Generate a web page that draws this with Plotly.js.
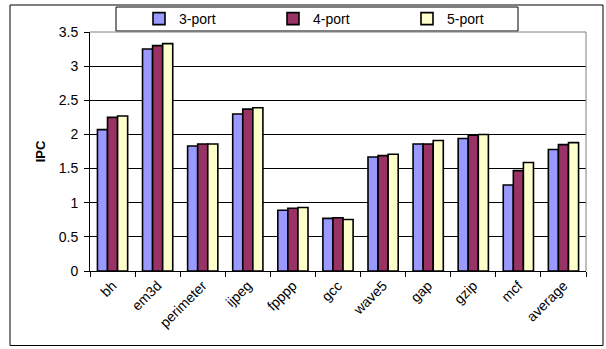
<!DOCTYPE html>
<html>
<head>
<meta charset="utf-8">
<script src="https://cdn.plot.ly/plotly-3.0.1.min.js"></script>
<style>
  html, body { margin: 0; padding: 0; background: #fff; }
  #chart { width: 606px; height: 349px; }
</style>
</head>
<body>
<div id="chart"></div>
<script>
// Benchmarks on the category axis
const categories = ['bh', 'em3d', 'perimeter', 'ijpeg', 'fpppp', 'gcc', 'wave5', 'gap', 'gzip', 'mcf', 'average'];

// IPC per register-file port configuration
const port3 = [2.07, 3.25, 1.83, 2.30, 0.89, 0.77, 1.67, 1.86, 1.94, 1.26, 1.78];
const port4 = [2.25, 3.30, 1.86, 2.37, 0.92, 0.78, 1.69, 1.86, 1.99, 1.47, 1.85];
const port5 = [2.27, 3.33, 1.86, 2.39, 0.93, 0.755, 1.71, 1.91, 2.00, 1.59, 1.88];

const seriesNames = ['3-port', '4-port', '5-port'];
const seriesColors = ['#9999FF', '#993366', '#FFFFCC'];
const seriesValues = [port3, port4, port5];

const FONT = 'Arial, "Liberation Sans", sans-serif';

const traces = seriesValues.map((vals, i) => ({
  type: 'bar',
  name: seriesNames[i],
  x: categories,
  y: vals,
  marker: { color: seriesColors[i], line: { color: '#000', width: 1.6 } },
  hoverinfo: 'x+y+name'
}));

// pixel helpers for paper-referenced decorations
const W = 606, H = 349, ML = 90, MR = 20, MT = 32, MB = 78;
const PW = W - ML - MR, PH = H - MT - MB;
const px = x => (x - ML) / PW;
const py = y => (H - MB - y) / PH;

const layout = {
  width: W,
  height: H,
  margin: { l: ML, r: MR, t: MT, b: MB, pad: 0, autoexpand: false },
  paper_bgcolor: '#fff',
  plot_bgcolor: '#fff',
  font: { family: FONT, size: 14, color: '#000' },
  barmode: 'group',
  bargap: 0.33,
  bargroupgap: 0,
  showlegend: true,
  legend: {
    orientation: 'h',
    x: px(139), xanchor: 'left',
    y: py(19), yanchor: 'middle',
    bgcolor: 'rgba(0,0,0,0)',
    borderwidth: 0,
    entrywidth: 89,
    entrywidthmode: 'pixels',
    font: { family: FONT, size: 14, color: '#000' }
  },
  xaxis: {
    type: 'category',
    automargin: false,
    tickson: 'boundaries',
    ticks: 'outside',
    ticklen: 5,
    tickcolor: '#000',
    tickwidth: 1,
    showline: true,
    linecolor: '#000',
    linewidth: 1,
    showgrid: false,
    tickangle: -45,
    tickfont: { family: FONT, size: 14, color: '#000' },
    fixedrange: true
  },
  yaxis: {
    range: [0, 3.5],
    automargin: false,
    dtick: 0.5,
    tick0: 0,
    ticks: 'outside',
    ticklen: 5,
    tickcolor: '#000',
    ticklabelstandoff: 3,
    showline: true,
    linecolor: '#000',
    linewidth: 1,
    showgrid: true,
    gridcolor: '#000',
    gridwidth: 1,
    zeroline: false,
    tickfont: { family: FONT, size: 14, color: '#000' },
    title: { text: '<b>IPC</b>', font: { family: FONT, size: 13, color: '#000' }, standoff: 10 },
    fixedrange: true
  },
  shapes: [
    // outer chart frame
    { type: 'rect', xref: 'paper', yref: 'paper',
      x0: px(10), x1: px(603), y0: py(345.5), y1: py(5),
      line: { color: '#000', width: 1 }, layer: 'below' },
    // legend frame
    { type: 'rect', xref: 'paper', yref: 'paper',
      x0: px(116), x1: px(518), y0: py(31), y1: py(7),
      line: { color: '#000', width: 1 }, fillcolor: '#fff', layer: 'below' },
    // plot area frame, top and right edges
    { type: 'path', xref: 'paper', yref: 'paper',
      path: 'M 0 1 L 1 1 L 1 0',
      line: { color: '#808080', width: 1 }, layer: 'above' }
  ]
};

Plotly.newPlot('chart', traces, layout, { displayModeBar: false, staticPlot: true });
</script>
</body>
</html>
